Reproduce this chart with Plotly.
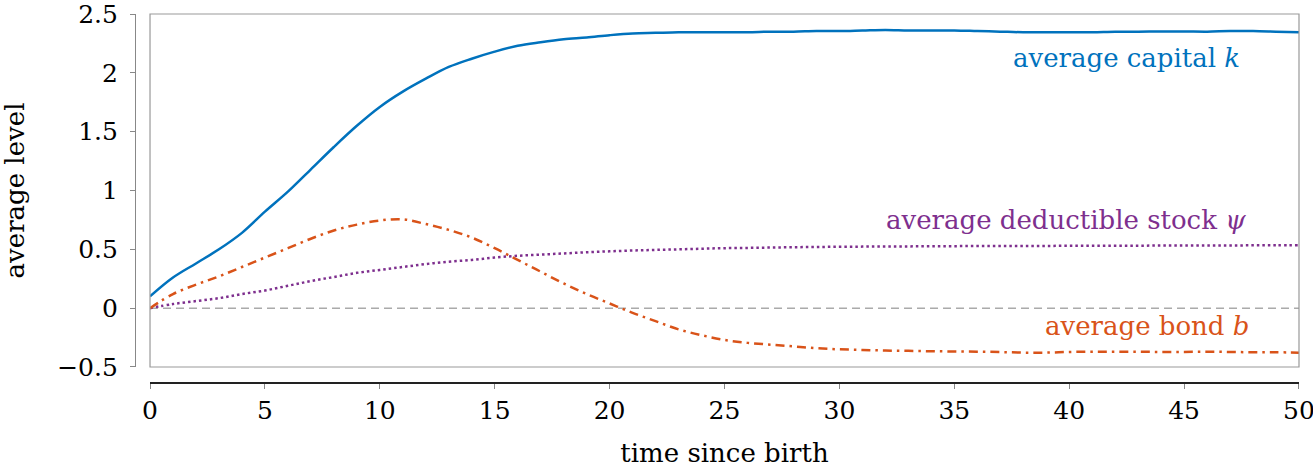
import plotly.graph_objects as go

t = list(range(0, 51))

capital_k = [0.10, 0.26, 0.38, 0.50, 0.64, 0.82, 0.99, 1.18, 1.37, 1.55, 1.71, 1.84, 1.95, 2.05, 2.12, 2.18, 2.23, 2.26, 2.285, 2.30, 2.32, 2.335,
             2.34, 2.345, 2.345, 2.345, 2.345, 2.35, 2.35, 2.355, 2.355, 2.36, 2.365, 2.36, 2.36, 2.36, 2.355, 2.35, 2.345, 2.345,
             2.345, 2.345, 2.35, 2.35, 2.352, 2.352, 2.35, 2.355, 2.355, 2.35, 2.345]

bond_b = [0.0, 0.12, 0.20, 0.27, 0.35, 0.43, 0.51, 0.59, 0.66, 0.71, 0.745, 0.755, 0.715, 0.665, 0.60, 0.51, 0.41, 0.31, 0.21, 0.12, 0.04, -0.04,
          -0.11, -0.18, -0.23, -0.27, -0.295, -0.31, -0.325, -0.34, -0.35, -0.355, -0.36, -0.363, -0.366, -0.368, -0.37, -0.373, -0.378, -0.378,
          -0.372, -0.37, -0.37, -0.37, -0.372, -0.372, -0.37, -0.372, -0.375, -0.375, -0.378]

stock_psi = [0.0, 0.035, 0.06, 0.085, 0.12, 0.15, 0.19, 0.23, 0.265, 0.30, 0.325, 0.35, 0.375, 0.395, 0.41, 0.43, 0.445, 0.455, 0.465, 0.475, 0.483, 0.49,
             0.495, 0.50, 0.505, 0.51, 0.512, 0.515, 0.518, 0.52, 0.522, 0.523, 0.524, 0.525, 0.526, 0.527, 0.528, 0.528, 0.529, 0.529,
             0.53, 0.53, 0.531, 0.531, 0.532, 0.532, 0.533, 0.533, 0.534, 0.534, 0.535]

zero_x = [0, 50]
zero_y = [0, 0]

x_ticks = [0, 5, 10, 15, 20, 25, 30, 35, 40, 45, 50]
y_ticks = [-0.5, 0, 0.5, 1, 1.5, 2, 2.5]
y_ticktext = ["\u22120.5", "0", "0.5", "1", "1.5", "2", "2.5"]

BLUE = "#0072BD"
ORANGE = "#D95319"
PURPLE = "#7E2F8E"
FONT = "DejaVu Serif"

fig = go.Figure()
fig.add_trace(go.Scatter(x=zero_x, y=zero_y, mode="lines",
                         line=dict(color="#aaaaaa", width=1.5, dash="8px,5px"), showlegend=False))
fig.add_trace(go.Scatter(x=t, y=stock_psi, mode="lines", line_shape="spline",
                         line=dict(color=PURPLE, width=2.5, dash="2.5px,3px"), showlegend=False))
fig.add_trace(go.Scatter(x=t, y=bond_b, mode="lines", line_shape="spline",
                         line=dict(color=ORANGE, width=2.5, dash="9px,5px,2.5px,5px"), showlegend=False))
fig.add_trace(go.Scatter(x=t, y=capital_k, mode="lines", line_shape="spline",
                         line=dict(color=BLUE, width=2.5), showlegend=False))

# frame around plotting area
fig.add_shape(type="rect", xref="x domain", yref="y domain", x0=0, x1=1, y0=0, y1=1,
              line=dict(color="#999999", width=1.2), layer="above")

fig.add_annotation(x=47.5, y=2.13, xref="x", yref="y", xanchor="right", yanchor="middle",
                   text="average capital <i>k</i>", showarrow=False,
                   font=dict(family=FONT, size=26, color=BLUE))
fig.add_annotation(x=47.8, y=0.75, xref="x", yref="y", xanchor="right", yanchor="middle",
                   text="average deductible stock <i>\u03c8</i>", showarrow=False,
                   font=dict(family=FONT, size=26, color=PURPLE))
fig.add_annotation(x=47.9, y=-0.155, xref="x", yref="y", xanchor="right", yanchor="middle",
                   text="average bond <i>b</i>", showarrow=False,
                   font=dict(family=FONT, size=26, color=ORANGE))

fig.update_layout(
    width=1313, height=468,
    margin=dict(l=135, r=14, t=14, b=85, autoexpand=False),
    plot_bgcolor="white", paper_bgcolor="white",
    font=dict(family=FONT, size=25, color="black"),
    xaxis=dict(domain=[0.0129, 1], range=[0, 50.0001], anchor="free", position=0, automargin=False,
               showgrid=False, zeroline=False, showline=True, linecolor="#222222", linewidth=1.5,
               ticks="outside", ticklen=5, tickcolor="#888888", tickwidth=1,
               tickvals=x_ticks, ticktext=[str(v) for v in x_ticks], ticklabeloverflow="allow",
               tickfont=dict(family=FONT, size=25),
               title=dict(text="time since birth", font=dict(family=FONT, size=26), standoff=22)),
    yaxis=dict(domain=[0.0434, 1], range=[-0.5, 2.5001], anchor="free", position=0, automargin=False,
               showgrid=False, zeroline=False, showline=True, linecolor="#888888", linewidth=1.2,
               ticks="outside", ticklen=5, tickcolor="#888888", tickwidth=1,
               tickvals=y_ticks, ticktext=y_ticktext, ticklabelstandoff=7, ticklabeloverflow="allow",
               tickfont=dict(family=FONT, size=25),
               title=dict(text="average level", font=dict(family=FONT, size=26), standoff=30)),
)

fig.write_html("out.html", config={"displayModeBar": False},
               post_script="document.body.style.margin='0';")
